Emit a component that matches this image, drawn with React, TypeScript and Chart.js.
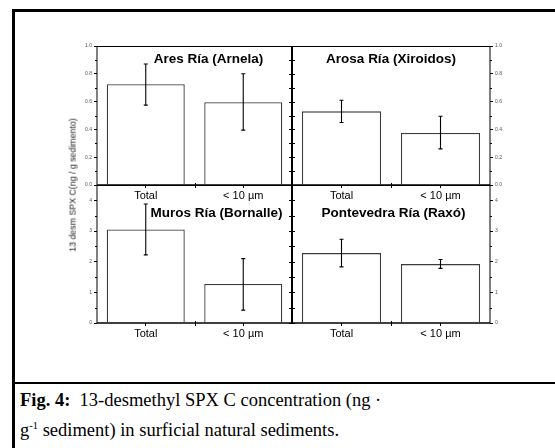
import React, { useEffect, useRef } from "react";
import { Chart, registerables } from "chart.js";

Chart.register(...registerables);

const categories = ["Total", "< 10 µm"];

const aresValues = [0.725, 0.595];
const aresErrLow = [0.575, 0.395];
const aresErrHigh = [0.87, 0.8];

const arosaValues = [0.53, 0.375];
const arosaErrLow = [0.45, 0.26];
const arosaErrHigh = [0.61, 0.495];

const murosValues = [3.05, 1.27];
const murosErrLow = [2.22, 0.42];
const murosErrHigh = [3.88, 2.1];

const pontevedraValues = [2.28, 1.92];
const pontevedraErrLow = [1.83, 1.78];
const pontevedraErrHigh = [2.73, 2.07];

const topAxisMax = 1.0;
const topAxisStep = 0.2;
const bottomAxisMax = 4.5;
const bottomAxisStep = 1;

const panelTitles = [
  "Ares Ría (Arnela)",
  "Arosa Ría (Xiroidos)",
  "Muros Ría (Bornalle)",
  "Pontevedra Ría (Raxó)",
];

const yAxisTitle = "13 desm SPX C(ng / g sedimento)";

const SANS = "'Liberation Sans', Arial, sans-serif";
const Y_W = 30;
const X_H = 22;
const PAD = 5;

type Panel = {
  values: number[];
  low: number[];
  high: number[];
  side: "left" | "right";
  max: number;
  step: number;
  left: number;
  top: number;
  plotW: number;
  plotH: number;
};

const panels: Panel[] = [
  { values: aresValues, low: aresErrLow, high: aresErrHigh, side: "left", max: topAxisMax, step: topAxisStep, left: 97, top: 46, plotW: 195, plotH: 139 },
  { values: arosaValues, low: arosaErrLow, high: arosaErrHigh, side: "right", max: topAxisMax, step: topAxisStep, left: 292, top: 46, plotW: 198, plotH: 139 },
  { values: murosValues, low: murosErrLow, high: murosErrHigh, side: "left", max: bottomAxisMax, step: bottomAxisStep, left: 97, top: 185, plotW: 195, plotH: 138 },
  { values: pontevedraValues, low: pontevedraErrLow, high: pontevedraErrHigh, side: "right", max: bottomAxisMax, step: bottomAxisStep, left: 292, top: 185, plotW: 198, plotH: 138 },
];

function canvasBox(p: Panel) {
  const left = p.side === "left" ? p.left - Y_W : p.left - PAD;
  const width = p.side === "left" ? Y_W + p.plotW + PAD : PAD + p.plotW + Y_W;
  return { left, top: p.top - PAD, width, height: PAD + p.plotH + X_H };
}

function framePlugin(p: Panel) {
  return {
    id: "frameErr",
    afterDatasetsDraw(chart: any) {
      const ctx = chart.ctx as CanvasRenderingContext2D;
      const a = chart.chartArea;
      const y = chart.scales.y;
      const x = chart.scales.x;
      ctx.save();
      ctx.strokeStyle = "#000";
      // error bars
      const meta = chart.getDatasetMeta(0);
      ctx.lineWidth = 1.1;
      meta.data.forEach((bar: any, i: number) => {
        const yl = y.getPixelForValue(p.low[i]);
        const yh = y.getPixelForValue(p.high[i]);
        ctx.beginPath();
        ctx.moveTo(bar.x, yl);
        ctx.lineTo(bar.x, yh);
        ctx.moveTo(bar.x - 2, yl);
        ctx.lineTo(bar.x + 2, yl);
        ctx.moveTo(bar.x - 2, yh);
        ctx.lineTo(bar.x + 2, yh);
        ctx.stroke();
      });
      // box
      ctx.lineWidth = 1;
      ctx.beginPath();
      ctx.moveTo(a.left, a.top + 0.5);
      ctx.lineTo(a.right, a.top + 0.5);
      ctx.stroke();
      ctx.lineWidth = 1.5;
      ctx.beginPath();
      ctx.moveTo(a.left, a.bottom);
      ctx.lineTo(a.right, a.bottom);
      ctx.stroke();
      const outerX = p.side === "left" ? a.left : a.right;
      const innerX = p.side === "left" ? a.right : a.left;
      const outDir = p.side === "left" ? -1 : 1;
      ctx.lineWidth = 1;
      ctx.beginPath();
      ctx.moveTo(outerX, a.top);
      ctx.lineTo(outerX, a.bottom);
      ctx.stroke();
      ctx.lineWidth = 2;
      ctx.beginPath();
      ctx.moveTo(innerX, a.top);
      ctx.lineTo(innerX, a.bottom);
      ctx.stroke();
      // minor ticks on outer side, ticks on both sides of inner axis
      ctx.lineWidth = 1;
      const half = p.step / 2;
      for (let v = 0; v <= p.max + 1e-9; v += half) {
        const py = Math.round(y.getPixelForValue(v)) + 0.5;
        const isMajor = Math.abs(v / p.step - Math.round(v / p.step)) < 1e-6;
        ctx.beginPath();
        if (!isMajor) {
          ctx.moveTo(outerX, py);
          ctx.lineTo(outerX + outDir * 2, py);
        }
        ctx.moveTo(innerX - 3, py);
        ctx.lineTo(innerX + 3, py);
        ctx.stroke();
      }
      // midpoint tick on x axis
      const c0 = x.getPixelForValue(0);
      const c1 = x.getPixelForValue(1);
      const mid = Math.round((c0 + c1) / 2) + 0.5;
      ctx.beginPath();
      ctx.moveTo(mid, a.bottom - 2);
      ctx.lineTo(mid, a.bottom + 3);
      ctx.stroke();
      ctx.restore();
    },
  };
}

function PanelChart({ p }: { p: Panel }) {
  const ref = useRef<HTMLCanvasElement | null>(null);
  const box = canvasBox(p);
  useEffect(() => {
    if (!ref.current) return;
    const chart = new Chart(ref.current, {
      type: "bar",
      data: {
        labels: categories,
        datasets: [
          {
            data: p.values,
            backgroundColor: "#ffffff",
            borderColor: "#3c3c3c",
            borderWidth: 1.3,
            barPercentage: 0.8,
            categoryPercentage: 1,
          },
        ],
      },
      options: {
        responsive: false,
        animation: false,
        layout: {
          padding: {
            top: PAD,
            left: p.side === "right" ? PAD : 0,
            right: p.side === "left" ? PAD : 0,
            bottom: 0,
          },
        },
        plugins: {
          legend: { display: false },
          tooltip: { enabled: false },
        },
        scales: {
          x: {
            offset: true,
            grid: {
              display: true,
              drawOnChartArea: false,
              drawTicks: true,
              tickLength: 3,
              offset: false,
              color: "#000",
            },
            border: { display: false },
            ticks: {
              font: { family: SANS, size: 11 },
              color: "#000",
              padding: 1,
              maxRotation: 0,
            },
            afterFit: (s: any) => {
              s.height = X_H;
            },
          },
          y: {
            position: p.side,
            min: 0,
            max: p.max,
            grid: {
              drawOnChartArea: false,
              drawTicks: true,
              tickLength: 3,
              color: "#000",
            },
            border: { display: false },
            ticks: {
              stepSize: p.step,
              includeBounds: false,
              font: { family: SANS, size: 5 },
              color: "#555",
              padding: 2,
              callback: (v: any) => (p.step < 1 ? Number(v).toFixed(1) : String(v)),
            },
            afterFit: (s: any) => {
              s.width = Y_W;
            },
          },
        },
      },
      plugins: [framePlugin(p)],
    });
    return () => chart.destroy();
  }, []);
  return (
    <canvas
      ref={ref}
      width={box.width}
      height={box.height}
      style={{ position: "absolute", left: box.left, top: box.top, width: box.width, height: box.height }}
    />
  );
}

const titlePos = [
  { x: 208.5, y: 59 },
  { x: 391, y: 59 },
  { x: 216.5, y: 213 },
  { x: 393.5, y: 213 },
];

export default function App() {
  return (
    <div style={{ position: "absolute", left: 0, top: 0, width: 555, height: 448, overflow: "hidden", background: "#fff" }}>
      {/* frame */}
      <div style={{ position: "absolute", left: 12, top: 9, width: 3, height: 439, background: "#000" }} />
      <div style={{ position: "absolute", left: 12, top: 9, width: 543, height: 2.5, background: "#000" }} />
      <div style={{ position: "absolute", left: 12, top: 382, width: 543, height: 2, background: "#000" }} />
      {panels.map((p, i) => (
        <PanelChart key={i} p={p} />
      ))}
      {panelTitles.map((t, i) => (
        <div
          key={t}
          style={{
            position: "absolute",
            left: titlePos[i].x,
            top: titlePos[i].y,
            transform: "translate(-50%, -50%)",
            whiteSpace: "nowrap",
            fontFamily: SANS,
            fontWeight: "bold",
            fontSize: 13.5,
            color: "#000",
            lineHeight: 1,
          }}
        >
          {t}
        </div>
      ))}
      <div
        style={{
          position: "absolute",
          left: 73,
          top: 185,
          transform: "translate(-50%, -50%) rotate(-90deg)",
          whiteSpace: "nowrap",
          fontFamily: SANS,
          fontSize: 8.8,
          color: "#222",
          lineHeight: 1,
        }}
      >
        {yAxisTitle}
      </div>
      <div
        style={{
          position: "absolute",
          left: 20,
          top: 385,
          width: 530,
          fontFamily: "'Liberation Serif', 'Times New Roman', serif",
          fontSize: 18.5,
          lineHeight: "30px",
          color: "#000",
        }}
      >
        <b>Fig. 4:</b>&nbsp; 13-desmethyl SPX C concentration (ng ·
        <br />
        g<sup style={{ fontSize: 10.5, lineHeight: 0 }}>-1</sup> sediment) in surficial natural sediments.
      </div>
    </div>
  );
}
